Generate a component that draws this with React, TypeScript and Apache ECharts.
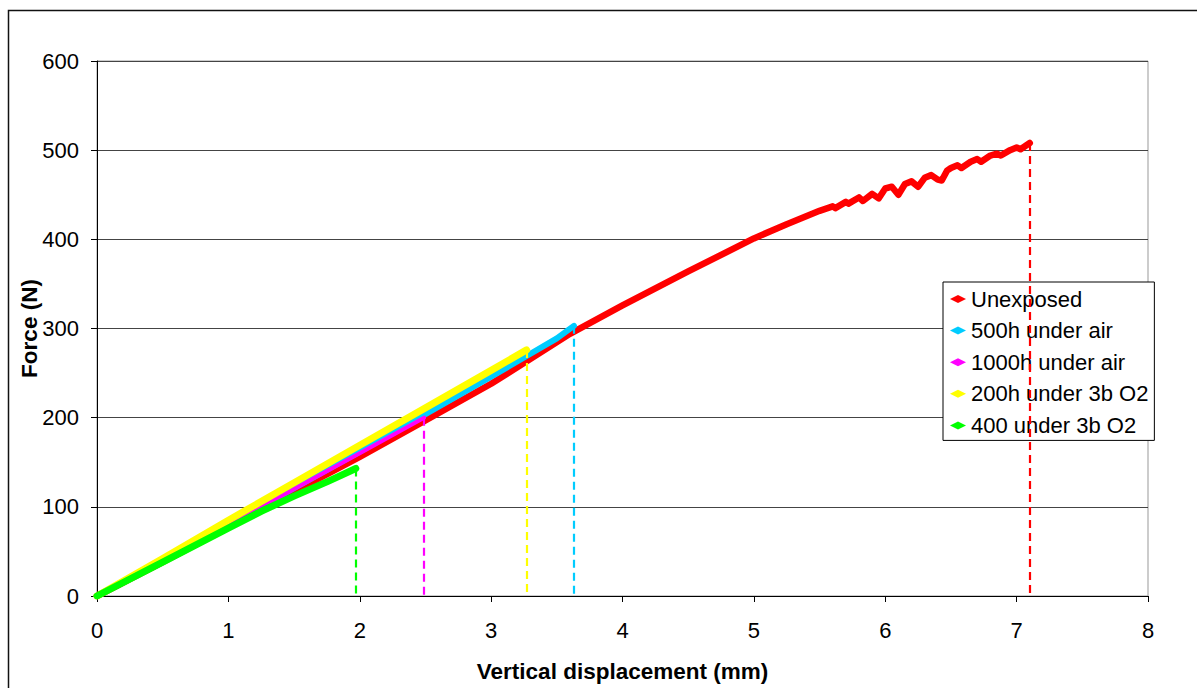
import { useEffect, useRef } from "react";
import * as echarts from "echarts";

const seriesNames = [
  "Unexposed",
  "500h under air",
  "1000h under air",
  "200h under 3b O2",
  "400 under 3b O2",
];
const seriesColors = ["#ff0000", "#00ccff", "#ff00ff", "#ffff00", "#00ff00"];

// [displacement (mm), force (N)]
const unexposed: [number, number][] = [
  [0, 0], [0.5, 38], [1, 77], [1.5, 117], [2, 156], [2.5, 197], [3, 238],
  [3.28, 264], [3.6, 294], [4, 326], [4.5, 364], [5, 401], [5.25, 417],
  [5.5, 432], [5.6, 437], [5.62, 435], [5.7, 442], [5.72, 440], [5.8, 447],
  [5.83, 443], [5.9, 451], [5.95, 446], [6.0, 457], [6.05, 459], [6.1, 450],
  [6.15, 462], [6.2, 465], [6.25, 459], [6.3, 469], [6.35, 472], [6.4, 467],
  [6.43, 466], [6.47, 477], [6.5, 480], [6.55, 483], [6.58, 480], [6.65, 487],
  [6.7, 490], [6.73, 487], [6.8, 494], [6.85, 496], [6.88, 494], [6.95, 500],
  [7.0, 503], [7.03, 501], [7.1, 508],
];
const air500h: [number, number][] = [
  [0, 0], [0.5, 40], [1, 80], [1.5, 121], [2, 162], [2.5, 204], [3, 246],
  [3.28, 270], [3.5, 289], [3.63, 303],
];
const air1000h: [number, number][] = [
  [0, 0], [0.5, 39], [1, 79], [1.5, 120], [2, 160], [2.49, 200],
];
const o2200h: [number, number][] = [
  [0, 0], [0.5, 42], [1, 85], [1.5, 127], [2, 169], [2.5, 211], [3, 253],
  [3.27, 276],
];
const o2400: [number, number][] = [
  [0, 0], [0.5, 38], [1, 76], [1.25, 95], [1.5, 112], [1.75, 128], [1.97, 143],
];

const allSeries = [unexposed, air500h, air1000h, o2200h, o2400];
const lineWidths = [6.5, 6, 4, 7, 7];

const xMin = 0;
const xMax = 8;
const xStep = 1;
const yMin = 0;
const yMax = 600;
const yStep = 100;

const FONT = "'Liberation Sans', Arial, sans-serif";

export default function App() {
  const ref = useRef<HTMLDivElement>(null);

  useEffect(() => {
    if (!ref.current) return;
    const chart = echarts.init(ref.current, null, { renderer: "svg" });

    const series = allSeries.map((data, i) => {
      const last = data[data.length - 1];
      return {
        name: seriesNames[i],
        type: "line",
        data,
        showSymbol: false,
        symbol: "diamond",
        lineStyle: { color: seriesColors[i], width: lineWidths[i], join: "round", cap: "round" },
        itemStyle: { color: seriesColors[i] },
        z: 2 + i,
        silent: true,
        markLine: {
          silent: true,
          symbol: ["none", "none"],
          label: { show: false },
          lineStyle: { color: seriesColors[i], type: [8, 5], width: 2.2 },
          data: [[{ coord: [last[0], last[1]] }, { coord: [last[0], 0] }]],
        },
      };
    });

    chart.setOption({
      animation: false,
      backgroundColor: "#ffffff",
      textStyle: { fontFamily: FONT },
      graphic: [
        {
          type: "rect",
          shape: { x: 8.5, y: 10.5, width: 1300, height: 800 },
          style: { fill: "none", stroke: "#111", lineWidth: 1.5 },
          silent: true,
          z: 0,
        },
      ],
      grid: {
        left: 97,
        right: 49,
        top: 61,
        bottom: 90,
        show: true,
        borderColor: "#999",
        borderWidth: 1,
        backgroundColor: "transparent",
      },
      legend: {
        orient: "vertical",
        left: 943,
        top: 282,
        padding: [6, 6, 4, 7],
        itemWidth: 16,
        itemHeight: 8,
        itemGap: 9.6,
        borderColor: "#000",
        borderWidth: 1,
        backgroundColor: "#fff",
        textStyle: { fontFamily: FONT, fontSize: 22, color: "#000" },
        data: seriesNames.map((n) => ({ name: n, icon: "diamond" })),
        selectedMode: false,
      },
      xAxis: {
        type: "value",
        min: xMin,
        max: xMax,
        interval: xStep,
        name: "Vertical displacement (mm)",
        nameLocation: "middle",
        nameGap: 64,
        nameMoveOverlap: false,
        nameTextStyle: { fontFamily: FONT, fontSize: 22.5, fontWeight: "bold", color: "#000" },
        axisLine: { show: true, lineStyle: { color: "#000", width: 1 } },
        axisTick: { show: true, inside: false, length: 6, lineStyle: { color: "#000" } },
        axisLabel: { fontFamily: FONT, fontSize: 22, color: "#000", margin: 23 },
        splitLine: { show: false },
      },
      yAxis: {
        type: "value",
        min: yMin,
        max: yMax,
        interval: yStep,
        name: "Force (N)",
        nameLocation: "middle",
        nameGap: 56,
        nameMoveOverlap: false,
        nameTextStyle: { fontFamily: FONT, fontSize: 22.5, fontWeight: "bold", color: "#000" },
        axisLine: { show: true, lineStyle: { color: "#000", width: 1 } },
        axisTick: { show: true, inside: false, length: 6, lineStyle: { color: "#000" } },
        axisLabel: { fontFamily: FONT, fontSize: 22, color: "#000", margin: 18 },
        splitLine: { show: true, lineStyle: { color: "#444", width: 1 } },
      },
      series,
    });

    return () => chart.dispose();
  }, []);

  return (
    <div
      ref={ref}
      style={{ position: "absolute", left: 0, top: 0, width: 1197, height: 688 }}
    />
  );
}
